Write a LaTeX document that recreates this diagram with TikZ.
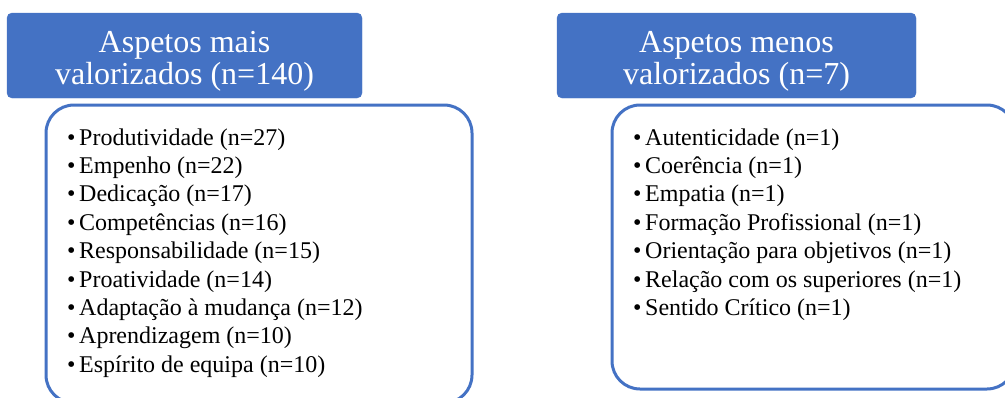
\documentclass[tikz,border=0pt]{standalone}
\usepackage{fontspec}
\setmainfont{Liberation Serif}
\definecolor{hdblue}{RGB}{68,114,196}

\tikzset{
  headbox/.style={fill=hdblue, draw=hdblue, rounded corners=5pt},
  headtext/.style={text=white, align=center, inner sep=0pt, font=\fontsize{32}{32}\selectfont},
  listbox/.style={draw=hdblue, line width=3pt, rounded corners=28pt},
  itemtext/.style={anchor=base west, inner sep=0pt, font=\fontsize{24}{28}\selectfont},
}

\begin{document}
\begin{tikzpicture}[x=1pt,y=-1pt]
  \useasboundingbox (0,0) rectangle (1005,397);
  % Left column: most valued
  \draw[headbox] (7,13) rectangle (362,98);
  \node[headtext] (maishead) at (184.5,61.5) {Aspetos mais\\valorizados (n=140)};
  \draw[listbox] (46,105) rectangle (472,403);
  \foreach \txt [count=\i] in {Produtividade (n=27), Empenho (n=22), Dedicação (n=17),
      Competências (n=16), Responsabilidade (n=15), Proatividade (n=14),
      Adaptação à mudança (n=12), Aprendizagem (n=10), Espírito de equipa (n=10)} {
    \node[itemtext] (mais\i) at (67,{145+28.4*(\i-1)}) {\makebox[12pt][l]{\textbullet}\txt};
  }
  % Right column: least valued
  \draw[headbox] (557,13) rectangle (916,98);
  \node[headtext] (menoshead) at (736.5,61.5) {Aspetos menos\\valorizados (n=7)};
  \draw[listbox] (612,105) rectangle (1015,389);
  \foreach \txt [count=\i] in {Autenticidade (n=1), Coerência (n=1), Empatia (n=1),
      Formação Profissional (n=1), Orientação para objetivos (n=1),
      Relação com os superiores (n=1), Sentido Crítico (n=1)} {
    \node[itemtext] (menos\i) at (633,{145+28.4*(\i-1)}) {\makebox[12pt][l]{\textbullet}\txt};
  }
\end{tikzpicture}
\end{document}
